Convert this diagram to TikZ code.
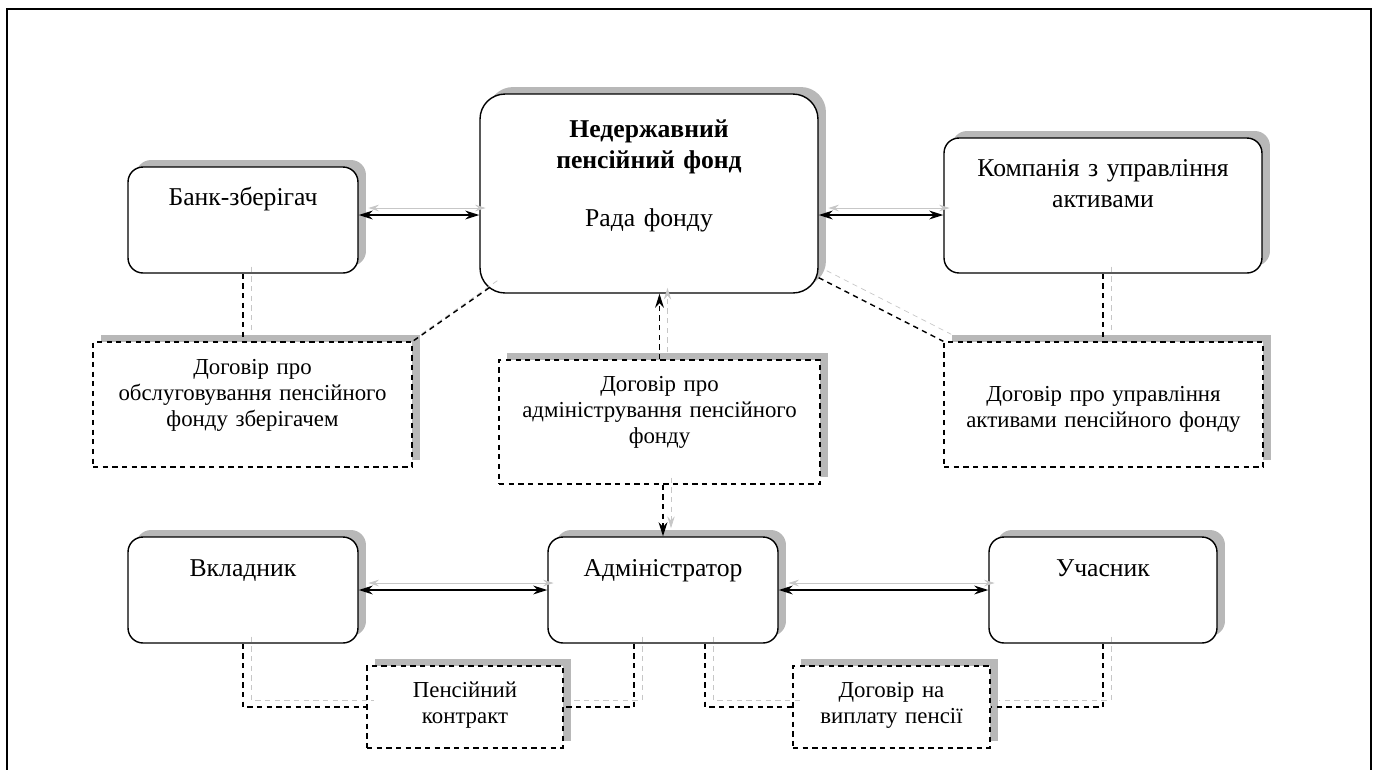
\documentclass[tikz,border=0pt]{standalone}
\usepackage{fontspec}
\setmainfont{Liberation Serif}
\usetikzlibrary{positioning,shadows,arrows.meta}

\begin{document}
\begin{tikzpicture}[
x=0.02cm,
y=-0.02cm,
party/.style={
  draw,
  fill=white,
  line width=0.8pt,
  rounded corners=0.3cm,
  inner sep=0pt,
  align=center,
  font=\fontsize{14.6}{18}\selectfont,
  drop shadow={shadow xshift=1.6mm, shadow yshift=1.4mm, fill=black!28, opacity=1}
  },
contract/.style={
  party,
  rounded corners=0pt,
  dash pattern=on 3pt off 2.5pt,
  font=\fontsize{13}{14.8}\selectfont
  },
boxsize/.style n args={3}{
  minimum width=#1,
  text width=#1,
  text height=#2,
  text depth=#3
  },
ghost/.style={
  preaction={draw=black!22, #1, transform canvas={xshift=1.6mm, yshift=1.4mm}}
  },
link/.style={<->, line width=1pt, ghost={<->}},
deal/.style={dash pattern=on 3pt off 2.5pt, line width=0.8pt, ghost={dash pattern=on 3pt off 2.5pt}},
>={Stealth[length=8pt,width=5pt]}
]
\useasboundingbox (0,0) rectangle (1377,769);
\draw[line width=1.2pt] (7,800) |- (1371,9) -- (1371,800);

% top row
\node[party, boxsize={4.6cm}{0.76cm}{1.36cm}] (bank) at (243,220) {Банк-зберігач};
\node[party, rounded corners=0.5cm, boxsize={6.76cm}{0.86cm}{3.12cm}] (fund) at (649,193.5)
  {\textbf{Недержавний\\пенсійний фонд}\\[15pt]Рада фонду};
\node[party, boxsize={6.36cm}{0.76cm}{1.94cm}] (company) at (1103,205.5)
  {Компанія з управління\\активами};

% contracts
\node[contract, boxsize={6.38cm}{0.64cm}{1.86cm}] (c1) at (252.5,404.5)
  {Договір про\\обслуговування пенсійного\\фонду зберігачем};
\node[contract, boxsize={6.42cm}{0.62cm}{1.86cm}] (c2) at (659.5,422)
  {Договір про\\адміністрування пенсійного\\фонду};
\node[contract, boxsize={6.38cm}{1.18cm}{1.32cm}] (c3) at (1103.5,404.5)
  {Договір про управління\\активами пенсійного фонду};

% bottom row
\node[party, boxsize={4.6cm}{0.78cm}{1.34cm}] (vkl) at (243,590) {Вкладник};
\node[party, boxsize={4.6cm}{0.78cm}{1.34cm}] (admin) at (663,590) {Адміністратор};
\node[party, boxsize={4.56cm}{0.78cm}{1.34cm}] (uch) at (1103,590) {Учасник};
\node[contract, boxsize={3.92cm}{0.62cm}{1.02cm}] (c4) at (465,707) {Пенсійний\\контракт};
\node[contract, boxsize={3.94cm}{0.62cm}{1.02cm}] (c5) at (891.5,707) {Договір на\\виплату пенсії};

% links
\coordinate (toprow) at (0,215);
\draw[link] (bank.east |- toprow) -- (fund.west |- toprow);
\draw[link] (fund.east |- toprow) -- (company.west |- toprow);
\draw[link] (vkl) -- (admin);
\draw[link] (admin) -- (uch);

\draw[deal] (bank.south) -- (bank.south |- c1.north);
\draw[deal] (company.south) -- (company.south |- c3.north);
\draw[deal] ([xshift=2mm,yshift=1.2mm]fund.south west) -- (c1.north east);
\draw[deal] ([yshift=3.2mm]fund.south east) -- (c3.north west);
\draw[deal,->] (c2.north) -- (c2.north |- fund.south);
\draw[deal,->] (c2.south -| admin.north) -- (admin.north);
\foreach \from/\to in {vkl.south/c4.west, uch.south/c5.east}
  \draw[deal] (\from) |- (\to);
\draw[deal] ([xshift=-5.8mm]admin.south) |- (c4.east);
\draw[deal] ([xshift=8.4mm]admin.south) |- (c5.west);
\end{tikzpicture}
\end{document}
